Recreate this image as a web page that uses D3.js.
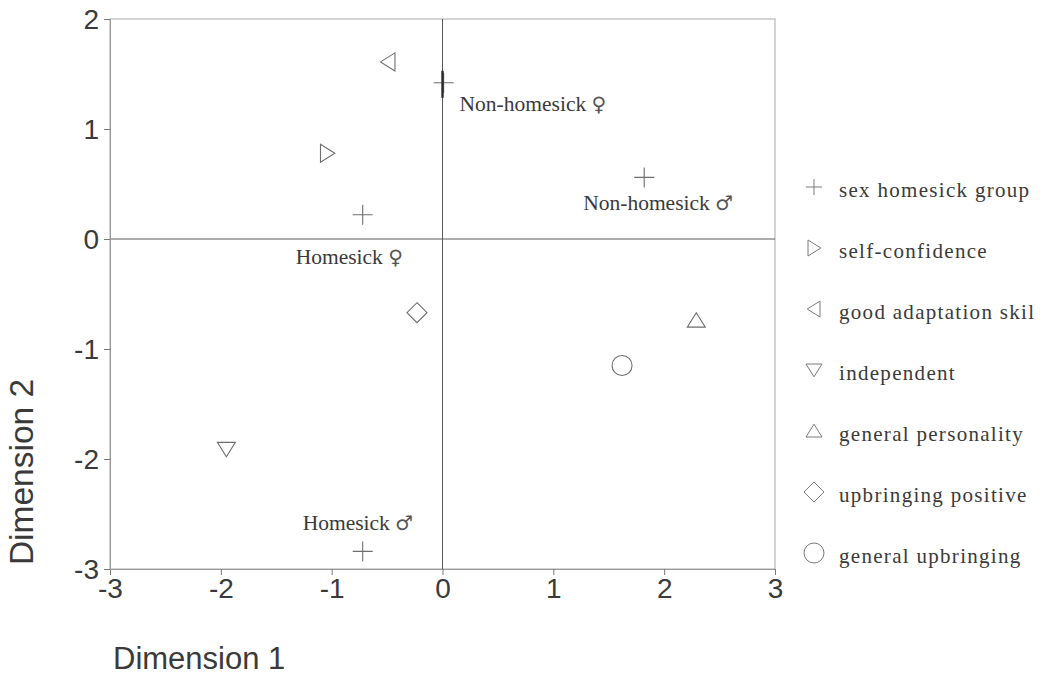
<!DOCTYPE html>
<html>
<head>
<meta charset="utf-8">
<script src="https://cdn.jsdelivr.net/npm/d3@7"></script>
<style>
  html, body { margin: 0; padding: 0; background: #fff; }
  svg { display: block; }
</style>
</head>
<body>
<svg id="chart" width="1049" height="693"></svg>
<script>
// Point categories and their coordinates on the two dimensions
const pointNames = ["Non-homesick ♀", "Non-homesick ♂", "Homesick ♀", "Homesick ♂",
  "self-confidence", "good adaptation skil", "independent", "general personality",
  "upbringing positive", "general upbringing"];
const dim1Values = [0.01, 1.82, -0.72, -0.72, -1.04, -0.49, -1.95, 2.29, -0.23, 1.62];
const dim2Values = [1.42, 0.56, 0.22, -2.84, 0.78, 1.61, -1.91, -0.74, -0.67, -1.15];
const pointSeries = ["sex homesick group", "sex homesick group", "sex homesick group", "sex homesick group",
  "self-confidence", "good adaptation skil", "independent", "general personality",
  "upbringing positive", "general upbringing"];
const pointLabels = ["Non-homesick ♀", "Non-homesick ♂", "Homesick ♀", "Homesick ♂",
  "", "", "", "", "", ""];

// Legend entries
const legendNames = ["sex homesick group", "self-confidence", "good adaptation skil", "independent",
  "general personality", "upbringing positive", "general upbringing"];

// Axis ticks
const xTicks = [-3, -2, -1, 0, 1, 2, 3];
const yTicks = [-3, -2, -1, 0, 1, 2];

const svg = d3.select("#chart");
const plot = { left: 110, right: 775, top: 19, bottom: 569 };

const x = d3.scaleLinear().domain([-3, 3]).range([plot.left, plot.right]);
const y = d3.scaleLinear().domain([-3, 2]).range([plot.bottom, plot.top]);

const markColor = "#6e6e6e";
const textColor = "#3a3a3a";
const sansFont = "'Liberation Sans', Arial, sans-serif";
const serifFont = "'Liberation Serif', 'Times New Roman', serif";

// Symbol path generators, centred on the origin
function symbolPath(kind, s) {
  switch (kind) {
    case "sex homesick group":
      return `M${-s},0H${s}M0,${-s}V${s}`;
    case "self-confidence": // right-pointing triangle
      return `M${-s * 0.75},${-s}L${s * 0.85},0L${-s * 0.75},${s}Z`;
    case "good adaptation skil": // left-pointing triangle
      return `M${s * 0.75},${-s}L${-s * 0.85},0L${s * 0.75},${s}Z`;
    case "independent": // down triangle
      return `M${-s},${-s * 0.75}L${s},${-s * 0.75}L0,${s * 0.85}Z`;
    case "general personality": // up triangle
      return `M${-s},${s * 0.75}L${s},${s * 0.75}L0,${-s * 0.85}Z`;
    case "upbringing positive": // diamond
      return `M0,${-s}L${s},0L0,${s}L${-s},0Z`;
    case "general upbringing": // circle
      return d3.arc()({ innerRadius: 0, outerRadius: s, startAngle: 0, endAngle: 2 * Math.PI });
  }
}
const plotSize = {
  "sex homesick group": 10, "self-confidence": 9, "good adaptation skil": 9, "independent": 9,
  "general personality": 9, "upbringing positive": 10, "general upbringing": 10
};
const legendSize = {
  "sex homesick group": 8, "self-confidence": 8, "good adaptation skil": 8, "independent": 8,
  "general personality": 8, "upbringing positive": 10, "general upbringing": 10
};

// Frame
svg.append("rect")
  .attr("x", plot.left).attr("y", plot.top)
  .attr("width", plot.right - plot.left).attr("height", plot.bottom - plot.top)
  .attr("fill", "none").attr("stroke", "#a8a8a8").attr("stroke-width", 1);

// Zero reference lines
svg.append("line")
  .attr("x1", x(0)).attr("x2", x(0)).attr("y1", plot.top).attr("y2", plot.bottom)
  .attr("stroke", "#5a5a5a").attr("stroke-width", 1);
svg.append("line")
  .attr("x1", plot.left).attr("x2", plot.right).attr("y1", y(0)).attr("y2", y(0))
  .attr("stroke", "#5a5a5a").attr("stroke-width", 1);

// Axes
const fmt = d => String(d);
const xAxis = svg.append("g")
  .attr("transform", `translate(0,${plot.bottom})`)
  .call(d3.axisBottom(x).tickValues(xTicks).tickSize(6).tickPadding(1).tickFormat(fmt));
const yAxis = svg.append("g")
  .attr("transform", `translate(${plot.left},0)`)
  .call(d3.axisLeft(y).tickValues(yTicks).tickSize(6).tickPadding(5).tickFormat(fmt));

[xAxis, yAxis].forEach(g => {
  g.select(".domain").attr("stroke", "#999");
  g.selectAll(".tick line").attr("stroke", "#777");
  g.selectAll(".tick text")
    .attr("fill", textColor)
    .style("font-family", sansFont)
    .style("font-size", "28px");
});
xAxis.selectAll(".tick text").attr("dy", "0.78em");
yAxis.selectAll(".tick text").attr("dy", "0.33em");

// Axis titles
svg.append("text")
  .attr("x", 113).attr("y", 669)
  .attr("fill", textColor)
  .style("font-family", sansFont)
  .style("font-size", "31px")
  .text("Dimension 1");
svg.append("text")
  .attr("transform", "translate(33,472) rotate(-90)")
  .attr("text-anchor", "middle")
  .attr("fill", textColor)
  .style("font-family", sansFont)
  .style("font-size", "33.5px")
  .text("Dimension 2");

// Points
const points = pointNames.map((n, i) => ({
  name: n, d1: dim1Values[i], d2: dim2Values[i], series: pointSeries[i], label: pointLabels[i]
}));

svg.append("g").selectAll("path")
  .data(points)
  .join("path")
  .attr("transform", d => `translate(${x(d.d1)},${y(d.d2)})`)
  .attr("d", d => symbolPath(d.series, plotSize[d.series]))
  .attr("fill", "none")
  .attr("stroke", markColor)
  .attr("stroke-width", 1.1);

// Heavier vertical stroke where the Non-homesick ♀ cross meets the zero line
svg.append("line")
  .attr("x1", x(0)).attr("x2", x(0))
  .attr("y1", y(dim2Values[0]) - 12).attr("y2", y(dim2Values[0]) + 15)
  .attr("stroke", "#2a2a2a").attr("stroke-width", 2.4);

// Point labels, offset from their markers
const labelPlacement = {
  "Non-homesick ♀": { dx: 16, dy: 28 },
  "Non-homesick ♂": { dx: -61, dy: 33 },
  "Homesick ♀": { dx: -67, dy: 49 },
  "Homesick ♂": { dx: -60, dy: -21 }
};
const labelText = svg.append("g").selectAll("text")
  .data(points.filter(d => d.label))
  .join("text")
  .attr("x", d => x(d.d1) + labelPlacement[d.name].dx)
  .attr("y", d => y(d.d2) + labelPlacement[d.name].dy)
  .attr("fill", textColor)
  .style("font-family", serifFont)
  .style("font-size", "21.5px");
labelText.append("tspan")
  .text(d => d.label.slice(0, d.label.lastIndexOf(" ") + 1));
labelText.append("tspan")
  .style("font-family", "'DejaVu Sans', sans-serif")
  .style("font-size", "20px")
  .attr("fill", "#555")
  .text(d => d.label.slice(d.label.lastIndexOf(" ") + 1));

// Legend
const legendY = d3.scalePoint().domain(legendNames).range([187, 553]);
const legend = svg.append("g").selectAll("g")
  .data(legendNames)
  .join("g")
  .attr("transform", d => `translate(814,${legendY(d)})`);
legend.append("path")
  .attr("d", d => symbolPath(d, legendSize[d]))
  .attr("fill", "none")
  .attr("stroke", "#7a7a7a")
  .attr("stroke-width", 1);
legend.append("text")
  .attr("x", 25).attr("y", 10)
  .attr("fill", textColor)
  .style("font-family", serifFont)
  .style("font-size", "21px")
  .style("letter-spacing", "1.3px")
  .text(d => d);
</script>
</body>
</html>
